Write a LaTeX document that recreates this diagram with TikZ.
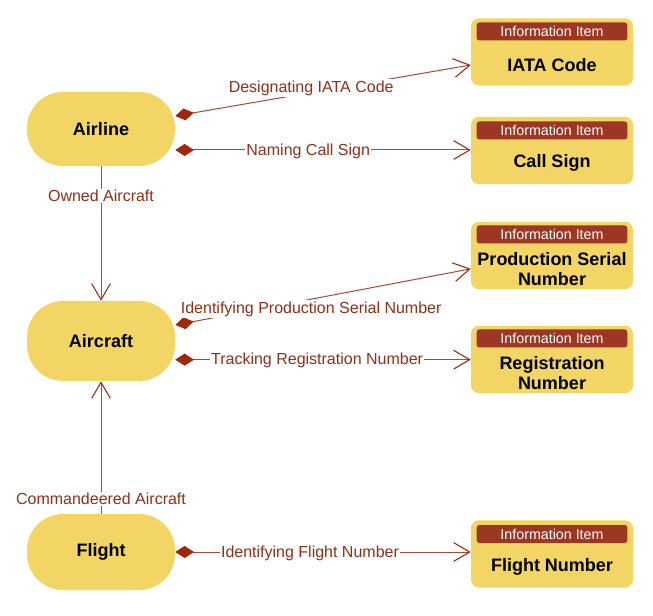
\documentclass[tikz,border=0pt]{standalone}
\usepackage{fontspec}
\setmainfont{Liberation Sans}
\usetikzlibrary{arrows.meta}
\definecolor{ccfill}{RGB}{242,213,100}
\definecolor{hdrfill}{RGB}{155,55,35}
\definecolor{edgecol}{RGB}{165,75,55}
\definecolor{tipcol}{RGB}{160,40,10}
\definecolor{lblcol}{RGB}{140,50,25}
\tikzset{
  concept/.style={rectangle, rounded corners=27pt, fill=ccfill, draw=none,
    minimum width=111pt, font=\fontsize{13.5}{15}\selectfont\bfseries, inner sep=0pt},
  infobox/.style={rectangle, rounded corners=6pt, fill=ccfill, draw=none,
    minimum width=121.5pt, minimum height=50.5pt, inner sep=0pt},
  infohdr/.style={rectangle, rounded corners=2pt, fill=hdrfill, draw=none,
    minimum width=113pt, minimum height=13.5pt, inner sep=0pt, text=white,
    font=\fontsize{10.7}{12}\selectfont},
  infotitle/.style={align=center, inner sep=0pt,
    font=\fontsize{13.5}{15}\selectfont\bfseries},
  rel/.style={draw=edgecol, line width=0.75pt,
    {Diamond[length=14pt,width=9pt,fill=tipcol,color=tipcol]}-{Straight Barb[length=12pt,width=14pt,color=tipcol,line width=0.8pt]}},
  ref/.style={draw=edgecol, line width=0.75pt,
    -{Straight Barb[length=12pt,width=14pt,color=tipcol,line width=0.8pt]}},
  lbl/.style={fill=white, text=lblcol, inner sep=1pt, font=\fontsize{12}{13}\selectfont}
}
\begin{document}
\begin{tikzpicture}[x=0.75pt,y=-0.75pt]
\useasboundingbox[fill=white] (0,0) rectangle (653,616);

% concepts
\node[concept, minimum height=55.5pt] (airline) at (101,129) {Airline};
\node[concept, minimum height=60pt] (aircraft) at (101,341) {Aircraft};
\node[concept, minimum height=57pt] (flight) at (101,552) {Flight};

% information items
\node[infobox] (iata) at (552,52) {};
\node[infohdr] (iatah) at (552,31.5) {Information Item};
\node[infotitle] (iatat) at (552,65) {IATA Code};

\node[infobox] (call) at (552,150.5) {};
\node[infohdr] (callh) at (552,130.5) {Information Item};
\node[infotitle] (callt) at (552,163) {Call Sign};

\node[infobox] (psn) at (552,255.5) {};
\node[infohdr] (psnh) at (552,234.5) {Information Item};
\node[infotitle] (psnt) at (552,269) {Production Serial\\Number};

\node[infobox] (reg) at (552,359.5) {};
\node[infohdr] (regh) at (552,338.5) {Information Item};
\node[infotitle] (regt) at (552,373) {Registration\\Number};

\node[infobox] (fnum) at (552,554) {};
\node[infohdr] (fnumh) at (552,534) {Information Item};
\node[infotitle] (fnumt) at (552,567) {Flight Number};

% anchor points
\coordinate (aliata) at ([yshift=9.75pt]airline.east);
\coordinate (alcall) at ([yshift=-15.75pt]airline.east);
\coordinate (acpsn) at ([yshift=12pt]aircraft.east);
\coordinate (acreg) at ([yshift=-14pt]aircraft.east);

% relations
\draw[rel] (aliata) -- ([yshift=-9.75pt]iata.west)
  node[lbl, pos=0.46, yshift=3.5pt] {Designating IATA Code};
\draw[rel] (alcall) -- (alcall -| call.west)
  node[lbl, pos=0.45, yshift=-0.8pt] {Naming Call Sign};
\draw[ref] (airline.south) -- (aircraft.north)
  node[lbl, pos=0.22] {Owned Aircraft};

\draw[rel] (acpsn) -- ([yshift=-10pt]psn.west)
  node[lbl, pos=0.46, yshift=-7.5pt] {Identifying Production Serial Number};
\draw[rel] (acreg) -- (acreg -| reg.west)
  node[lbl, pos=0.48, yshift=-0.8pt] {Tracking Registration Number};

\draw[ref] (flight.north) -- (aircraft.south)
  node[lbl, pos=0.11] {Commandeered Aircraft};
\draw[rel] (flight.east) -- (flight.east -| fnum.west)
  node[lbl, pos=0.456, yshift=-0.8pt] {Identifying Flight Number};
\end{tikzpicture}
\end{document}
